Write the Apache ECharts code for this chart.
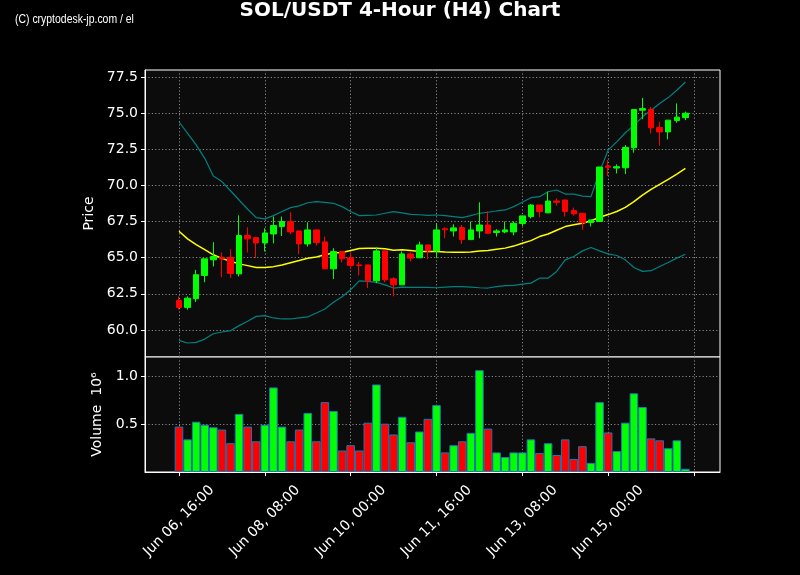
<!DOCTYPE html>
<html>
<head>
<meta charset="utf-8">
<script src="https://cdn.jsdelivr.net/npm/echarts@6/dist/echarts.min.js"></script>
<style>html,body{margin:0;padding:0;background:#000;}#c{width:800px;height:575px;}</style>
</head>
<body>
<div id="c"></div>
<script>
// ---- data (4-hour candles, index 0 = Jun 06 16:00) ----
const openP  = [62.04,61.56,62.16,63.77,64.85,65.03,65.01,63.88,66.53,66.39,66.02,66.64,67.15,67.50,66.85,65.95,66.92,66.09,64.23,65.43,64.99,64.50,64.50,63.40,65.47,63.54,63.12,65.26,64.99,65.88,65.47,67.00,66.85,67.08,66.25,66.85,67.26,66.74,66.78,66.78,67.36,67.84,68.64,68.10,68.92,68.99,68.26,68.07,67.43,67.50,71.34,71.20,71.22,72.60,75.20,75.25,74.00,73.70,74.49,74.69];
const closeP = [61.56,62.20,63.82,64.92,65.08,64.92,63.91,66.53,66.30,66.02,66.71,67.22,67.50,66.78,65.95,66.92,66.05,64.23,65.42,64.92,64.46,64.45,63.40,65.47,63.47,63.12,65.26,64.97,65.88,65.47,66.92,66.93,67.06,66.25,66.92,67.26,66.69,66.85,66.92,67.38,67.89,68.64,68.19,68.92,68.83,68.19,68.03,67.43,67.61,71.27,71.25,71.29,72.62,75.25,75.31,73.98,73.70,74.51,74.72,74.99];
const lowP   = [61.40,61.40,61.93,63.30,64.39,63.65,63.59,63.70,65.36,64.97,65.43,65.99,66.50,66.62,65.24,65.77,65.84,64.20,63.52,64.67,64.20,63.77,62.90,63.24,63.30,62.32,63.12,64.73,64.99,64.90,64.97,66.34,66.46,65.95,66.25,66.34,66.64,66.46,66.69,66.55,67.20,67.72,67.79,68.07,68.60,67.84,67.91,66.92,67.15,67.50,70.65,70.83,70.78,72.26,74.58,73.59,72.74,73.18,74.33,74.51];
const highP  = [62.32,62.32,64.16,64.92,66.07,65.36,65.59,67.93,67.10,66.41,67.03,67.84,67.84,68.14,66.85,67.45,66.92,66.46,65.66,65.43,65.36,64.73,64.50,65.72,65.47,63.65,65.43,65.36,66.11,65.88,67.38,67.10,67.31,67.26,67.50,68.83,68.21,66.97,67.50,67.50,67.91,68.71,68.64,69.56,69.10,68.99,68.47,68.07,67.61,71.27,71.75,71.45,72.78,75.25,76.05,75.43,74.40,74.51,75.67,75.10];
const volume = [0.473,0.340,0.524,0.493,0.466,0.442,0.300,0.605,0.473,0.320,0.493,0.881,0.473,0.320,0.442,0.616,0.320,0.728,0.636,0.224,0.279,0.224,0.514,0.912,0.503,0.391,0.575,0.310,0.422,0.554,0.697,0.204,0.279,0.320,0.408,1.061,0.452,0.204,0.156,0.204,0.204,0.340,0.197,0.300,0.177,0.340,0.136,0.269,0.095,0.728,0.412,0.218,0.514,0.820,0.677,0.350,0.330,0.248,0.330,0.034];
const sma    = [66.83,66.30,65.90,65.55,65.20,64.95,64.75,64.57,64.45,64.32,64.32,64.38,64.50,64.65,64.80,64.96,65.05,65.20,65.32,65.36,65.50,65.64,65.66,65.66,65.62,65.52,65.54,65.50,65.43,65.43,65.43,65.40,65.38,65.38,65.40,65.46,65.50,65.58,65.66,65.80,66.00,66.18,66.46,66.64,66.90,67.15,67.28,67.38,67.55,67.79,67.98,68.19,68.48,68.87,69.33,69.72,70.07,70.42,70.78,71.17];
const upperB = [74.40,73.60,72.80,71.87,70.65,70.26,69.63,68.99,68.35,67.77,67.68,67.91,68.19,68.46,68.58,68.80,68.87,68.83,68.76,68.53,68.19,67.91,67.93,67.95,68.07,68.19,68.10,68.00,67.97,67.93,67.95,67.91,67.84,67.77,67.91,68.07,68.14,68.23,68.30,68.53,68.83,69.15,69.22,69.56,69.68,69.40,69.40,69.26,69.22,70.94,72.44,73.01,73.64,74.17,74.74,75.20,75.66,76.07,76.58,77.15];
const lowerB = [59.28,59.10,59.14,59.37,59.74,59.86,59.95,60.30,60.60,60.94,60.99,60.83,60.76,60.76,60.83,60.90,61.17,61.45,61.91,62.30,62.78,63.40,63.36,63.29,63.12,62.90,62.96,62.94,62.94,62.94,62.92,62.96,63.00,63.00,62.96,62.92,62.90,63.00,63.06,63.08,63.17,63.24,63.58,63.58,64.05,64.85,65.08,65.47,65.70,65.47,65.26,65.15,64.85,64.32,64.05,64.10,64.39,64.67,64.97,65.24];
const xTickIdx    = [0, 10, 20, 30, 40, 50, 60];
const xTickLabels = ["Jun 06, 16:00", "Jun 08, 08:00", "Jun 10, 00:00", "Jun 11, 16:00", "Jun 13, 08:00", "Jun 15, 00:00", ""];
const priceTicks  = [60.0, 62.5, 65.0, 67.5, 70.0, 72.5, 75.0, 77.5];
const volTicks    = [0.5, 1.0];

const UP = '#00ff00', DOWN = '#ff0000', FONT = 'DejaVu Sans';
const idx = openP.map((_, i) => i);
const gridLine = { show: true, lineStyle: { color: '#8a8a8a', type: [1.2, 2.2], width: 1 } };

const chart = echarts.init(document.getElementById('c'), null, { renderer: 'canvas' });
chart.setOption({
  backgroundColor: '#000000',
  animation: false,
  title: {
    text: 'SOL/USDT 4-Hour (H4) Chart', left: 'center', top: 0, padding: [1, 0, 0, 0],
    textStyle: { color: '#ffffff', fontSize: 20, fontWeight: 'bold', fontFamily: FONT }
  },
  graphic: [{
    type: 'text', left: 15, top: 14, scaleX: 0.87,
    style: { text: '(C) cryptodesk-jp.com / el', fill: '#ffffff', font: '12px "Liberation Sans"' }
  }],
  grid: [
    { left: 145, right: 80, top: 70, height: 287, show: true, backgroundColor: '#0c0c0c', borderColor: '#ffffff', borderWidth: 1 },
    { left: 145, right: 80, top: 357, height: 115, show: true, backgroundColor: '#0c0c0c', borderColor: '#ffffff', borderWidth: 1 }
  ],
  xAxis: [
    { type: 'value', gridIndex: 0, min: -3.96, max: 63.03,
      axisLine: { show: false, onZero: false }, axisLabel: { show: false },
      axisTick: { show: false, customValues: xTickIdx },
      splitLine: gridLine },
    { type: 'value', gridIndex: 1, min: -3.96, max: 63.03,
      axisLine: { show: true, onZero: false, lineStyle: { color: '#ffffff', width: 1 } },
      axisTick: { show: true, length: 4, lineStyle: { color: '#ffffff' }, customValues: xTickIdx },
      axisLabel: { customValues: xTickIdx, rotate: 45, align: 'center', verticalAlign: 'middle', margin: 49,
        color: '#ffffff', fontSize: 14, fontFamily: FONT,
        formatter: v => { const k = xTickIdx.indexOf(Math.round(v)); return k >= 0 ? xTickLabels[k] : ''; } },
      splitLine: gridLine }
  ],
  yAxis: [
    { type: 'value', gridIndex: 0, min: 58.13, max: 77.98,
      name: 'Price', nameLocation: 'middle', nameGap: 47,
      nameTextStyle: { color: '#ffffff', fontSize: 14, fontFamily: FONT },
      axisLine: { show: true, onZero: false, lineStyle: { color: '#ffffff' } },
      axisTick: { show: true, length: 4, lineStyle: { color: '#ffffff' }, customValues: priceTicks },
      axisLabel: { customValues: priceTicks, margin: 7, color: '#ffffff', fontSize: 14, fontFamily: FONT,
        formatter: v => v.toFixed(1) },
      splitLine: gridLine },
    { type: 'value', gridIndex: 1, min: 0, max: 1.198,
      name: 'Volume  10\u2076', nameLocation: 'middle', nameGap: 40,
      nameTextStyle: { color: '#ffffff', fontSize: 14, fontFamily: FONT },
      axisLine: { show: true, onZero: false, lineStyle: { color: '#ffffff' } },
      axisTick: { show: true, length: 4, lineStyle: { color: '#ffffff' }, customValues: volTicks },
      axisLabel: { customValues: volTicks, margin: 7, color: '#ffffff', fontSize: 14, fontFamily: FONT,
        formatter: v => v.toFixed(1) },
      splitLine: gridLine }
  ],
  series: [
    { type: 'line', xAxisIndex: 0, yAxisIndex: 0, data: idx.map(i => [i, upperB[i]]),
      showSymbol: false, lineStyle: { color: '#008080', width: 1.2 }, z: 2 },
    { type: 'line', xAxisIndex: 0, yAxisIndex: 0, data: idx.map(i => [i, lowerB[i]]),
      showSymbol: false, lineStyle: { color: '#008080', width: 1.2 }, z: 2 },
    { type: 'line', xAxisIndex: 0, yAxisIndex: 0, data: idx.map(i => [i, sma[i]]),
      showSymbol: false, lineStyle: { color: '#ffff00', width: 1.5 }, z: 2 },
    { type: 'candlestick', xAxisIndex: 0, yAxisIndex: 0,
      data: idx.map(i => [i, openP[i], closeP[i], lowP[i], highP[i]]),
      encode: { x: 0, y: [1, 2, 3, 4] },
      barWidth: 6,
      itemStyle: { color: UP, color0: DOWN, borderColor: UP, borderColor0: DOWN, borderWidth: 1 }, z: 3 },
    { type: 'bar', xAxisIndex: 1, yAxisIndex: 1, barWidth: 8.58,
      data: idx.map(i => ({ value: [i, volume[i]], itemStyle: { color: closeP[i] >= openP[i] ? UP : DOWN } })),
      itemStyle: { borderColor: '#1f77b4', borderWidth: 1 } }
  ]
});
</script>
</body>
</html>
